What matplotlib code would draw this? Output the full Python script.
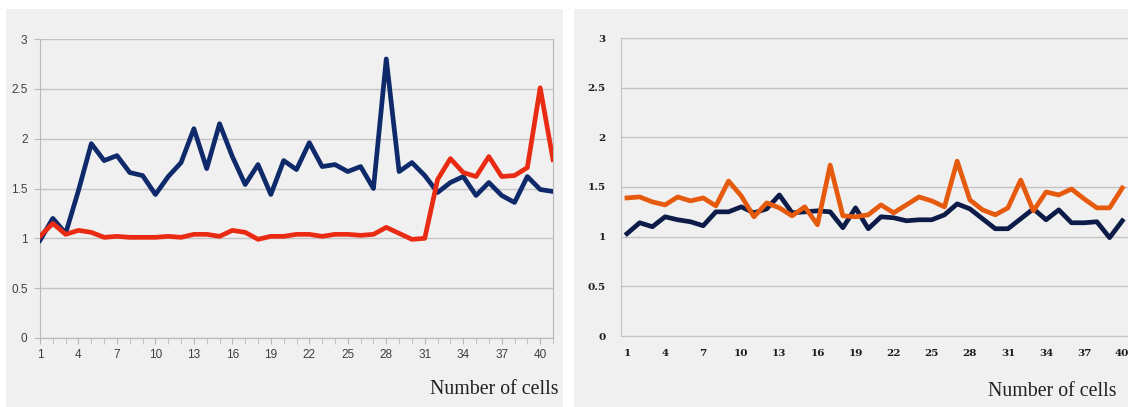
import numpy as np
import matplotlib.pyplot as plt
from matplotlib.patches import Rectangle
from matplotlib.ticker import MultipleLocator

# left panel (41 cells)
left_blue = [0.98, 1.20, 1.05, 1.48, 1.95, 1.78, 1.83, 1.66, 1.63, 1.44,
             1.62, 1.76, 2.10, 1.70, 2.15, 1.82, 1.54, 1.74, 1.44, 1.78,
             1.69, 1.96, 1.72, 1.74, 1.67, 1.72, 1.50, 2.80, 1.67, 1.76,
             1.63, 1.46, 1.56, 1.62, 1.43, 1.56, 1.43, 1.36, 1.62, 1.49, 1.47]
left_red = [1.02, 1.15, 1.04, 1.08, 1.06, 1.01, 1.02, 1.01, 1.01, 1.01,
            1.02, 1.01, 1.04, 1.04, 1.02, 1.08, 1.06, 0.99, 1.02, 1.02,
            1.04, 1.04, 1.02, 1.04, 1.04, 1.03, 1.04, 1.11, 1.05, 0.99,
            1.00, 1.59, 1.80, 1.66, 1.62, 1.82, 1.62, 1.63, 1.71, 2.51, 1.79]

# right panel (40 cells)
right_orange = [1.39, 1.40, 1.35, 1.32, 1.40, 1.36, 1.39, 1.31, 1.56, 1.41,
                1.20, 1.34, 1.29, 1.21, 1.30, 1.12, 1.72, 1.21, 1.20, 1.22,
                1.32, 1.24, 1.32, 1.40, 1.36, 1.30, 1.76, 1.37, 1.27, 1.22,
                1.29, 1.57, 1.26, 1.45, 1.42, 1.48, 1.38, 1.29, 1.29, 1.49]
right_navy = [1.03, 1.14, 1.10, 1.20, 1.17, 1.15, 1.11, 1.25, 1.25, 1.30,
              1.24, 1.28, 1.42, 1.24, 1.25, 1.26, 1.25, 1.09, 1.29, 1.08,
              1.20, 1.19, 1.16, 1.17, 1.17, 1.22, 1.33, 1.28, 1.18, 1.08,
              1.08, 1.18, 1.28, 1.17, 1.27, 1.14, 1.14, 1.15, 0.99, 1.16]

y_ticks = [0, 0.5, 1, 1.5, 2, 2.5, 3]
y_labels = ["0", "0.5", "1", "1.5", "2", "2.5", "3"]
xlabel = "Number of cells"

W, H = 1128, 407
bg = "#f0f0f0"
grid_c = "#c4c4c4"

fig = plt.figure(figsize=(W / 100, H / 100), dpi=100)
fig.patch.set_facecolor("white")
# grey panel backgrounds, drawn under the axes
fig.patches.append(Rectangle((6 / W, 0), 557 / W, (H - 9) / H, transform=fig.transFigure,
                             facecolor=bg, edgecolor="none", zorder=-10))
fig.patches.append(Rectangle((574 / W, 0), (W - 574) / W, (H - 9) / H, transform=fig.transFigure,
                             facecolor=bg, edgecolor="none", zorder=-10))


def fx(px):
    return px / W


def fy(px):
    return 1 - px / H


# ---- left panel
ax = fig.add_axes([fx(40), fy(338), fx(553 - 40), (338 - 39) / H])
ax.set_facecolor("none")
x1 = np.arange(1, len(left_blue) + 1)
ax.plot(x1, left_blue, color="#0f2a6a", lw=3.4, solid_joinstyle="round", zorder=3)
ax.plot(x1, left_red, color="#ea2b14", lw=3.4, solid_joinstyle="round", zorder=3)
ax.set_xlim(1, 41)
ax.set_ylim(0, 3)
ax.set_yticks(y_ticks)
ax.set_yticklabels(y_labels)
ax.set_xticks(np.arange(1, 41, 3))
ax.xaxis.set_minor_locator(MultipleLocator(1))
ax.grid(axis="y", color=grid_c, lw=1.0)
ax.set_axisbelow(True)
ax.spines["top"].set_visible(False)
for s in ["left", "bottom", "right"]:
    ax.spines[s].set_color("#b8b8b8")
ax.tick_params(axis="y", length=4, color="#b8b8b8", labelsize=8.5, labelcolor="#404040", pad=5)
ax.tick_params(axis="x", which="both", direction="out", length=4, color="#b8b8b8",
               labelsize=8.5, labelcolor="#404040", pad=4)
for lab in ax.get_xticklabels() + ax.get_yticklabels():
    lab.set_family("Liberation Sans")
fig.text(fx(558), fy(390), xlabel, ha="right", va="center", fontsize=14.3,
         family="Liberation Serif", color="#202020")

# ---- right panel
ax2 = fig.add_axes([fx(621), fy(336), fx(W - 621), (336 - 38) / H])
ax2.set_facecolor("none")
x2 = np.arange(1, len(right_orange) + 1)
ax2.plot(x2, right_navy, color="#0c1b48", lw=3.4, solid_joinstyle="round", zorder=3)
ax2.plot(x2, right_orange, color="#e65a0e", lw=3.4, solid_joinstyle="round", zorder=3)
ax2.set_xlim(0.53, 40.45)
ax2.set_ylim(0, 3)
ax2.set_yticks(y_ticks)
ax2.set_yticklabels(y_labels)
ax2.set_xticks(np.arange(1, 41, 3))
ax2.grid(axis="y", color=grid_c, lw=1.0)
ax2.set_axisbelow(True)
for s in ["top", "right"]:
    ax2.spines[s].set_visible(False)
for s in ["left", "bottom"]:
    ax2.spines[s].set_color("#c4c4c4")
ax2.tick_params(axis="both", length=0, labelsize=7.5, labelcolor="#1a1a1a", pad=9)
ax2.tick_params(axis="y", pad=11)
for lab in ax2.get_xticklabels() + ax2.get_yticklabels():
    lab.set_family("DejaVu Serif")
    lab.set_fontweight("bold")
fig.text(fx(1116), fy(392), xlabel, ha="right", va="center", fontsize=14.3,
         family="Liberation Serif", color="#202020")

fig.savefig("out.png", dpi=100, facecolor="white")
